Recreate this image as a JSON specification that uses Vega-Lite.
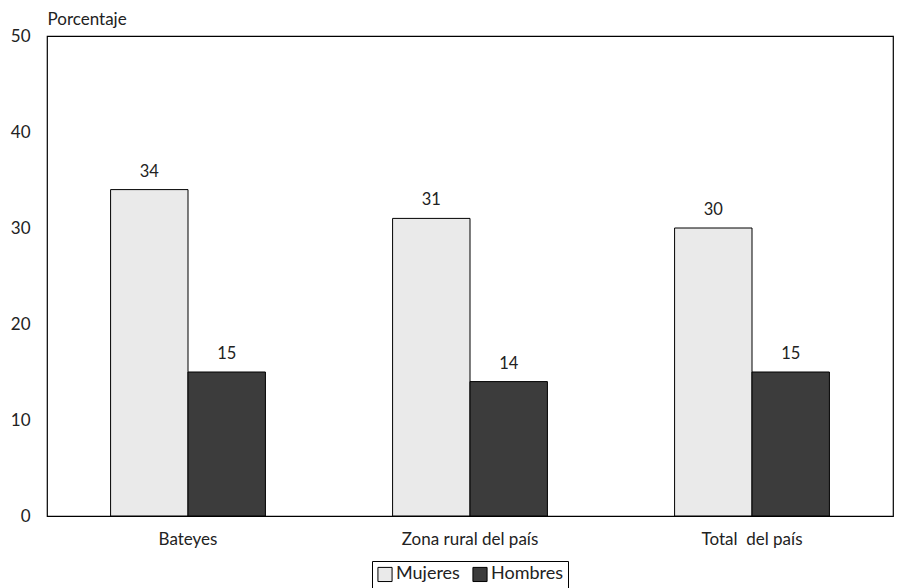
{
  "$schema": "https://vega.github.io/schema/vega-lite/v6.json",
  "autosize": {"type": "none"},
  "width": 846,
  "height": 480,
  "padding": {"left": 47, "top": 36, "right": 9, "bottom": 72},
  "background": "white",
  "config": {
    "font": "Lato",
    "view": {"stroke": "#000", "strokeWidth": 1.2},
    "axis": {"labelColor": "#222", "titleColor": "#222", "labelFontSize": 17, "titleFontSize": 17, "titleFontWeight": "normal", "labelFontWeight": "normal"},
    "legend": {"labelColor": "#222"}
  },
  "data": {
    "values": [
      {"lugar": "Bateyes", "sexo": "Mujeres", "valor": 34},
      {"lugar": "Bateyes", "sexo": "Hombres", "valor": 15},
      {"lugar": "Zona rural del país", "sexo": "Mujeres", "valor": 31},
      {"lugar": "Zona rural del país", "sexo": "Hombres", "valor": 14},
      {"lugar": "Total\u00a0 del país", "sexo": "Mujeres", "valor": 30},
      {"lugar": "Total\u00a0 del país", "sexo": "Hombres", "valor": 15}
    ]
  },
  "encoding": {
    "x": {
      "field": "lugar", "type": "nominal", "sort": null,
      "scale": {"paddingInner": 0.451, "paddingOuter": 0.2255},
      "axis": {"labelAngle": 0, "ticks": false, "domain": false, "labelPadding": 15, "title": null}
    },
    "xOffset": {
      "field": "sexo", "type": "nominal", "sort": ["Mujeres", "Hombres"],
      "scale": {"paddingInner": 0, "paddingOuter": 0}
    },
    "y": {
      "field": "valor", "type": "quantitative",
      "scale": {"domain": [0, 50], "nice": false},
      "axis": {
        "values": [0, 10, 20, 30, 40, 50], "ticks": false, "grid": false, "domain": false,
        "labelPadding": 17, "title": "Porcentaje", "titleAngle": 0, "titleAlign": "left",
        "titleBaseline": "alphabetic", "titleX": 0, "titleY": -12
      }
    }
  },
  "layer": [
    {
      "mark": {"type": "bar", "stroke": "#000", "strokeWidth": 1},
      "encoding": {
        "color": {
          "field": "sexo", "type": "nominal",
          "scale": {"domain": ["Mujeres", "Hombres"], "range": ["#eaeaea", "#3c3c3c"]},
          "legend": {
            "orient": "none", "legendX": 325, "legendY": 525, "direction": "horizontal",
            "title": null, "strokeColor": "#000", "fillColor": "white", "padding": 4,
            "symbolType": "square", "symbolSize": 200, "symbolStrokeColor": "#000", "symbolStrokeWidth": 1,
            "labelFontSize": 18, "labelOffset": 2, "columnPadding": 10
          }
        }
      }
    },
    {
      "mark": {"type": "text", "dy": -10, "baseline": "bottom", "fontSize": 16.5, "color": "#222"},
      "encoding": {"text": {"field": "valor", "type": "quantitative"}}
    }
  ]
}
